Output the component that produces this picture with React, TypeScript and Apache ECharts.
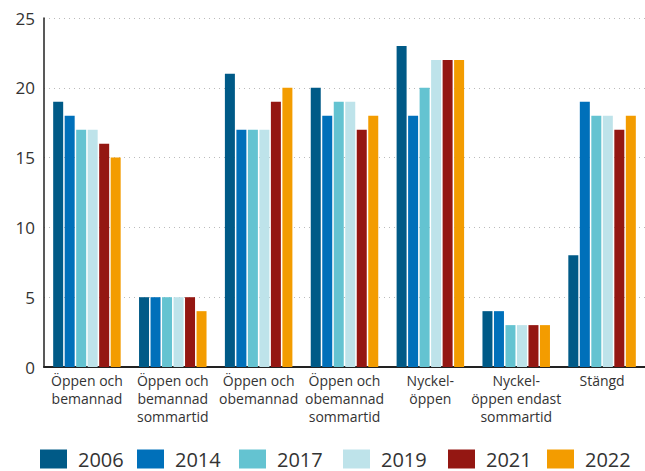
import React, { useEffect, useRef } from "react";
import * as echarts from "echarts";

const categories = [
  "Öppen och\nbemannad",
  "Öppen och\nbemannad\nsommartid",
  "Öppen och\nobemannad",
  "Öppen och\nobemannad\nsommartid",
  "Nyckel-\nöppen",
  "Nyckel-\nöppen endast\nsommartid",
  "Stängd",
];
const years = ["2006", "2014", "2017", "2019", "2021", "2022"];
const colors = ["#005a87", "#0070ba", "#64c3d1", "#bee3ea", "#941712", "#f39c00"];
const v2006 = [19, 5, 21, 20, 23, 4, 8];
const v2014 = [18, 5, 17, 18, 18, 4, 19];
const v2017 = [17, 5, 17, 19, 20, 3, 18];
const v2019 = [17, 5, 17, 19, 22, 3, 18];
const v2021 = [16, 5, 19, 17, 22, 3, 17];
const v2022 = [15, 4, 20, 18, 22, 3, 18];
const seriesValues = [v2006, v2014, v2017, v2019, v2021, v2022];
const legendLefts = [40, 137, 239, 343, 448, 547];

export default function App() {
  const ref = useRef<HTMLDivElement>(null);
  useEffect(() => {
    document.body.style.margin = "0";
    const chart = echarts.init(ref.current!, null, { renderer: "svg" });
    chart.setOption({
      animation: false,
      textStyle: { fontFamily: "Open Sans" },
      grid: { left: 44, right: 0, top: 18, bottom: 104, containLabel: false },
      legend: years.map((y, i) => ({
        left: legendLefts[i],
        top: 449,
        padding: 0,
        itemWidth: 27,
        itemHeight: 19,
        icon: "rect",
        selectedMode: false,
        textStyle: {
          fontSize: 20,
          color: "#333",
          fontFamily: "Open Sans",
          lineHeight: 19,
          padding: [0, 0, 0, 6],
        },
        data: [y],
      })),
      xAxis: {
        type: "category",
        data: categories,
        axisLine: { lineStyle: { color: "#222", width: 2 } },
        axisTick: { show: false },
        axisLabel: {
          interval: 0,
          fontSize: 14,
          lineHeight: 18,
          color: "#333",
          margin: 4,
        },
      },
      yAxis: {
        type: "value",
        min: 0,
        max: 25,
        interval: 5,
        axisLine: { show: true, lineStyle: { color: "#222", width: 1.5 } },
        axisTick: { show: false },
        axisLabel: { fontSize: 17, color: "#333", margin: 9 },
        splitLine: { lineStyle: { color: "#bbb", type: [1, 4], width: 1 } },
      },
      series: years.map((y, i) => ({
        name: y,
        type: "bar",
        data: seriesValues[i],
        barWidth: 10,
        barGap: "15%",
        itemStyle: { color: colors[i] },
      })),
    });
    return () => chart.dispose();
  }, []);
  return <div ref={ref} style={{ width: 645, height: 471 }} />;
}
